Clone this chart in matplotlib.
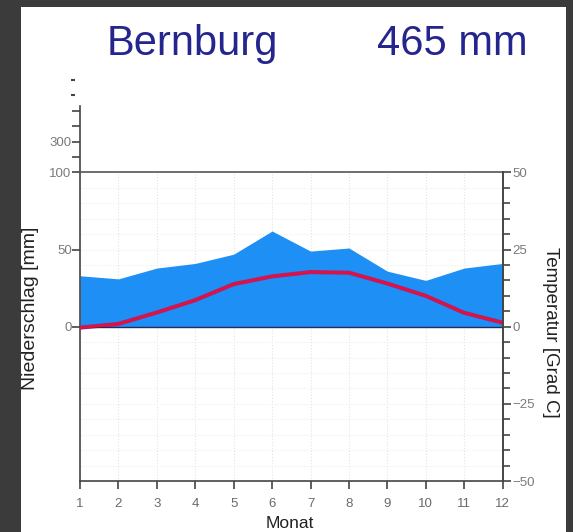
import matplotlib
matplotlib.use("Agg")
import matplotlib.pyplot as plt
from matplotlib.patches import Rectangle
from matplotlib.transforms import blended_transform_factory

plt.rcParams.update({"font.family": ["Liberation Sans", "DejaVu Sans"]})

months = [1, 2, 3, 4, 5, 6, 7, 8, 9, 10, 11, 12]
precip_mm = [33, 31, 38, 41, 47, 62, 49, 51, 36, 30, 38, 41]
temp_c = [-0.3, 0.9, 4.6, 8.6, 13.8, 16.3, 17.7, 17.5, 14.0, 10.0, 4.5, 1.3]
station = "Bernburg"
total = "465 mm"

# left axis: mm on a temperature scale (10 degC = 20 mm, above 100 mm compressed 1:10)
mm_ticks = [0, 50, 100, 200, 300, 400, 500]
mm_labels = ["0", "50", "100", "", "300", "", ""]
temp_major = [-50, -25, 0, 25, 50]


def mm_to_scale(p):
    return p / 2 if p <= 100 else 50 + (p - 100) / 20


W, H = 573, 532
fig = plt.figure(figsize=(W / 100, H / 100), dpi=100, facecolor="#3b3b3b")
fig.add_artist(Rectangle((21 / W, 0), (566 - 21) / W, (H - 7) / H, transform=fig.transFigure,
                         facecolor="white", edgecolor="none", zorder=0))

px = 3.086  # pixels per degree
ax = fig.add_axes([80 / W, (H - 481) / H, 422.6 / W, 135 * px / H])
ax.set_xlim(1, 12)
ax.set_ylim(-50, 85)
ax.patch.set_alpha(0)

# faint background grid
ax.vlines(months, -50, 50, colors="#e4e4e4", linestyles=":", lw=0.8, zorder=1)
ax.hlines(range(-45, 50, 5), 1, 12, colors="#ededed", linestyles=":", lw=0.8, zorder=1)

ax.fill_between(months, 0, [mm_to_scale(p) for p in precip_mm], color="#1e8ff5", lw=0, zorder=2)
ax.plot(months, temp_c, color="#9a2a8a", lw=3.0, zorder=3, solid_capstyle="butt")
ax.plot(months, temp_c, color="#e3103c", lw=2.0, zorder=4, solid_capstyle="butt")
ax.plot([1, 12], [0, 0], color="#2a2a5a", lw=1.0, zorder=3)
ax.plot([1, 12], [50, 50], color="#555555", lw=1.2, zorder=3, clip_on=False)

ax.spines["top"].set_visible(False)
for s in ("left", "right", "bottom"):
    ax.spines[s].set_color("#444444")
    ax.spines[s].set_linewidth(1.2)
ax.spines["left"].set_bounds(-50, 71.5)
ax.spines["right"].set_bounds(-50, 50)

ax.set_xticks(months)
ax.set_xticklabels([str(m) for m in months])
ax.tick_params(axis="x", direction="out", length=6, width=1.2, color="#444444",
               labelsize=9.5, labelcolor="#6a6a6a", pad=6)

ax.set_yticks([mm_to_scale(p) for p in mm_ticks])
ax.set_yticklabels(mm_labels)
ax.tick_params(axis="y", direction="out", length=6, width=1.2, color="#444444",
               labelsize=9.5, labelcolor="#7a7a7a", pad=0)

# detached dashes above the left spine
tr = blended_transform_factory(ax.transAxes, ax.transData)
ax.plot([-7 / 422.6] * 2, [mm_to_scale(600), mm_to_scale(700)], ls="none", marker="_",
        ms=3, mew=1.5, color="#444444", transform=tr, clip_on=False)

axr = ax.twinx()
axr.set_ylim(-50, 85)
axr.patch.set_alpha(0)
for s in ("top", "left", "bottom"):
    axr.spines[s].set_visible(False)
axr.spines["right"].set_bounds(-50, 50)
axr.spines["right"].set_color("#444444")
axr.spines["right"].set_linewidth(1.2)
axr.set_yticks(temp_major)
axr.set_yticks(range(-45, 50, 5), minor=True)
axr.tick_params(axis="y", which="major", length=6, width=1.2, color="#444444",
                labelsize=9.5, labelcolor="#7a7a7a", pad=1)
axr.tick_params(axis="y", which="minor", length=5, width=1.2, color="#444444")

fig.text(107 / W, 1 - 55 / H, station, fontsize=30, color="#25258e", ha="left", va="baseline")
fig.text(528 / W, 1 - 55 / H, total, fontsize=30, color="#25258e", ha="right", va="baseline")
fig.text(31 / W, 1 - 308 / H, "Niederschlag [mm]", rotation=90, fontsize=14,
         color="#222222", ha="center", va="center")
fig.text(550 / W, 1 - 332 / H, "Temperatur [Grad C]", rotation=270, fontsize=13.5,
         color="#222222", ha="center", va="center")
fig.text(290 / W, 1 - 523 / H, "Monat", fontsize=12.5, color="#222222", ha="center", va="center")

fig.savefig("out.png", dpi=100, facecolor=fig.get_facecolor())
